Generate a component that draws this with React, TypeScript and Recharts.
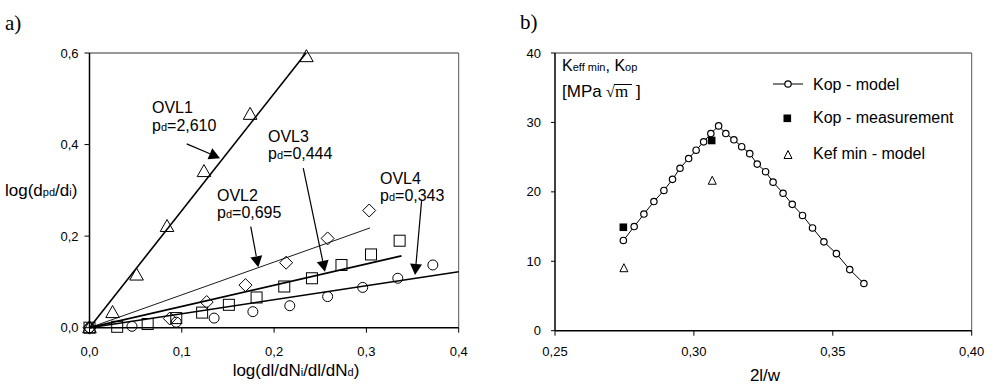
import React from 'react';
import {
  ComposedChart,
  Scatter,
  XAxis,
  YAxis,
  ReferenceLine,
} from 'recharts';

const FONT = '"Liberation Sans", Arial, sans-serif';
const SERIF = '"Liberation Serif", "Times New Roman", serif';

// panel a) measured points, log(dl/dN ratio) vs log(d ratio)
const ovl1 = [
  { x: 0, y: 0 }, { x: 0.025, y: 0.033 }, { x: 0.051, y: 0.115 }, { x: 0.084, y: 0.221 },
  { x: 0.124, y: 0.341 }, { x: 0.174, y: 0.466 }, { x: 0.235, y: 0.592 },
];
const ovl2 = [
  { x: 0, y: 0 }, { x: 0.087, y: 0.02 }, { x: 0.127, y: 0.056 }, { x: 0.169, y: 0.093 },
  { x: 0.213, y: 0.142 }, { x: 0.258, y: 0.195 }, { x: 0.303, y: 0.256 },
];
const ovl3 = [
  { x: 0, y: 0 }, { x: 0.03, y: 0.002 }, { x: 0.063, y: 0.008 }, { x: 0.094, y: 0.021 },
  { x: 0.122, y: 0.033 }, { x: 0.151, y: 0.05 }, { x: 0.181, y: 0.066 }, { x: 0.211, y: 0.09 },
  { x: 0.241, y: 0.108 }, { x: 0.273, y: 0.137 }, { x: 0.305, y: 0.16 }, { x: 0.336, y: 0.19 },
];
const ovl4 = [
  { x: 0, y: 0 }, { x: 0.046, y: 0.003 }, { x: 0.094, y: 0.012 }, { x: 0.135, y: 0.021 },
  { x: 0.177, y: 0.035 }, { x: 0.217, y: 0.048 }, { x: 0.258, y: 0.068 }, { x: 0.296, y: 0.088 },
  { x: 0.334, y: 0.108 }, { x: 0.372, y: 0.137 },
];

// fitted lines through the origin
const ovl1Fit = [{ x: 0, y: 0 }, { x: 0.2346, y: 0.6 }];
const ovl2Fit = [{ x: 0, y: 0 }, { x: 0.304, y: 0.218 }];
const ovl3Fit = [{ x: 0, y: 0 }, { x: 0.338, y: 0.157 }];
const ovl4Fit = [{ x: 0, y: 0 }, { x: 0.4, y: 0.122 }];

// arrows: [from, to] in data units
const ovl1Arrow = [{ x: 0.1053, y: 0.4016 }, { x: 0.1414, y: 0.3703 }];
const ovl2Arrow = [{ x: 0.1747, y: 0.2208 }, { x: 0.1829, y: 0.132 }];
const ovl3Arrow = [{ x: 0.2316, y: 0.3484 }, { x: 0.2551, y: 0.1224 }];
const ovl4Arrow = [{ x: 0.3599, y: 0.2791 }, { x: 0.3527, y: 0.1152 }];

const aTicksX = [0, 0.1, 0.2, 0.3, 0.4];
const aTicksY = [0, 0.2, 0.4, 0.6];

// panel b)
const kopModel = [
  { x: 0.2746, y: 13.0 }, { x: 0.2785, y: 15.0 }, { x: 0.282, y: 16.8 }, { x: 0.2856, y: 18.6 },
  { x: 0.2892, y: 20.2 }, { x: 0.2923, y: 21.8 }, { x: 0.295, y: 23.4 }, { x: 0.2981, y: 24.8 },
  { x: 0.3008, y: 26.0 }, { x: 0.3035, y: 27.2 }, { x: 0.3061, y: 28.4 }, { x: 0.3089, y: 29.5 },
  { x: 0.3115, y: 28.4 }, { x: 0.3144, y: 27.5 }, { x: 0.3172, y: 26.5 }, { x: 0.3201, y: 25.5 },
  { x: 0.3228, y: 24.0 }, { x: 0.3258, y: 22.9 }, { x: 0.3285, y: 21.4 }, { x: 0.3321, y: 19.8 },
  { x: 0.3354, y: 18.2 }, { x: 0.3391, y: 16.6 }, { x: 0.3427, y: 14.8 }, { x: 0.3468, y: 12.8 },
  { x: 0.3513, y: 11.1 }, { x: 0.3561, y: 8.8 }, { x: 0.3612, y: 6.8 },
];
const kopMeasurement = [{ x: 0.2746, y: 14.9 }, { x: 0.3064, y: 27.4 }];
const kefMinModel = [{ x: 0.2748, y: 9.0 }, { x: 0.3066, y: 21.6 }];

const bTicksX = [0.25, 0.3, 0.35, 0.4];
const bTicksY = [0, 10, 20, 30, 40];

const comma = (d: number) => (v: number) => v.toFixed(d).replace('.', ',');

const tickStyle = { fill: '#000', fontSize: 13, fontFamily: FONT };

const NoShape = () => <g />;

const OpenTriangle = (p: any) => (
  <polygon
    points={`${p.cx},${p.cy - 7} ${p.cx - 6.8},${p.cy + 5} ${p.cx + 6.8},${p.cy + 5}`}
    fill="none" stroke="#000" strokeWidth={1}
  />
);
const OpenDiamond = (p: any) => (
  <polygon
    points={`${p.cx},${p.cy - 6.5} ${p.cx + 6.5},${p.cy} ${p.cx},${p.cy + 6.5} ${p.cx - 6.5},${p.cy}`}
    fill="none" stroke="#000" strokeWidth={1}
  />
);
const OpenSquare = (p: any) => (
  <rect x={p.cx - 5.5} y={p.cy - 5.5} width={11} height={11} fill="none" stroke="#000" strokeWidth={1} />
);
const OpenCircle = (p: any) => (
  <circle cx={p.cx} cy={p.cy} r={5} fill="none" stroke="#000" strokeWidth={1} />
);
const SmallCircle = (p: any) => (
  <circle cx={p.cx} cy={p.cy} r={3.2} fill="#fff" stroke="#000" strokeWidth={1.2} />
);
const FilledSquare = (p: any) => (
  <rect x={p.cx - 3.8} y={p.cy - 3.8} width={7.6} height={7.6} fill="#000" />
);
const SmallTriangle = (p: any) => (
  <polygon
    points={`${p.cx},${p.cy - 4.5} ${p.cx - 4},${p.cy + 3.5} ${p.cx + 4},${p.cy + 3.5}`}
    fill="none" stroke="#000" strokeWidth={1}
  />
);

const Arrow = (p: any) => {
  const { x1, y1, x2, y2 } = p;
  const dx = x2 - x1;
  const dy = y2 - y1;
  const len = Math.sqrt(dx * dx + dy * dy);
  const ux = dx / len;
  const uy = dy / len;
  const hl = 11;
  const hw = 6;
  const bx = x2 - ux * hl;
  const by = y2 - uy * hl;
  return (
    <g>
      <line x1={x1} y1={y1} x2={bx} y2={by} stroke="#000" strokeWidth={1.2} />
      <polygon
        points={`${x2},${y2} ${bx - uy * hw},${by + ux * hw} ${bx + uy * hw},${by - ux * hw}`}
        fill="#000"
      />
    </g>
  );
};

const Sub = ({ children }: { children: React.ReactNode }) => (
  <tspan fontSize={11}>{children}</tspan>
);

const App: React.FC = () => {
  return (
    <div style={{ position: 'absolute', left: 0, top: 0, width: 993, height: 386, background: '#fff' }}>
      <div style={{ position: 'absolute', left: 0, top: 0 }}>
        <ComposedChart width={480} height={386} margin={{ top: 53, right: 21.3, bottom: 28.3, left: 39.5 }}>
          <XAxis
            type="number" dataKey="x" domain={[0, 0.4]} ticks={aTicksX} tickFormatter={comma(1)}
            stroke="#000" axisLine={{ stroke: '#000', strokeWidth: 1.5 }} tickSize={5} tickMargin={14}
            height={30} tick={tickStyle}
          />
          <YAxis
            type="number" dataKey="y" domain={[0, 0.6]} ticks={aTicksY} tickFormatter={comma(1)}
            stroke="#000" axisLine={{ stroke: '#000', strokeWidth: 1.5 }} tickSize={5} tickMargin={6}
            width={50} tick={tickStyle}
          />
          <ReferenceLine y={0.6} stroke="#333" strokeWidth={1} />
          <ReferenceLine x={0.4} stroke="#555" strokeWidth={1} />
          <Scatter data={ovl1Fit} line={{ stroke: '#000', strokeWidth: 1.6 }} shape={NoShape} isAnimationActive={false} />
          <Scatter data={ovl2Fit} line={{ stroke: '#000', strokeWidth: 0.9 }} shape={NoShape} isAnimationActive={false} />
          <Scatter data={ovl3Fit} line={{ stroke: '#000', strokeWidth: 1.8 }} shape={NoShape} isAnimationActive={false} />
          <Scatter data={ovl4Fit} line={{ stroke: '#000', strokeWidth: 1.5 }} shape={NoShape} isAnimationActive={false} />
          <Scatter name="OVL1" data={ovl1} shape={OpenTriangle} isAnimationActive={false} />
          <Scatter name="OVL2" data={ovl2} shape={OpenDiamond} isAnimationActive={false} />
          <Scatter name="OVL3" data={ovl3} shape={OpenSquare} isAnimationActive={false} />
          <Scatter name="OVL4" data={ovl4} shape={OpenCircle} isAnimationActive={false} />
          <ReferenceLine segment={ovl1Arrow} shape={Arrow} />
          <ReferenceLine segment={ovl2Arrow} shape={Arrow} />
          <ReferenceLine segment={ovl3Arrow} shape={Arrow} />
          <ReferenceLine segment={ovl4Arrow} shape={Arrow} />
        </ComposedChart>
      </div>

      <div style={{ position: 'absolute', left: 480, top: 0 }}>
        <ComposedChart width={513} height={386} margin={{ top: 53, right: 21.3, bottom: 25.3, left: 25 }}>
          <XAxis
            type="number" dataKey="x" domain={[0.25, 0.4]} ticks={bTicksX} tickFormatter={comma(2)}
            stroke="#000" axisLine={{ stroke: '#000', strokeWidth: 1.5 }} tickSize={5} tickMargin={11}
            height={30} tick={tickStyle}
          />
          <YAxis
            type="number" dataKey="y" domain={[0, 40]} ticks={bTicksY}
            stroke="#000" axisLine={{ stroke: '#000', strokeWidth: 1.5 }} tickSize={4} tickMargin={10}
            width={50} tick={tickStyle}
          />
          <ReferenceLine y={40} stroke="#333" strokeWidth={1} />
          <ReferenceLine x={0.4} stroke="#555" strokeWidth={1} />
          <Scatter name="Kop - model" data={kopModel} line={{ stroke: '#000', strokeWidth: 1 }} shape={SmallCircle} isAnimationActive={false} />
          <Scatter name="Kop - measurement" data={kopMeasurement} shape={FilledSquare} isAnimationActive={false} />
          <Scatter name="Kef min - model" data={kefMinModel} shape={SmallTriangle} isAnimationActive={false} />
        </ComposedChart>
      </div>

      <svg
        width={993}
        height={386}
        style={{ position: 'absolute', left: 0, top: 0, pointerEvents: 'none' }}
        fontFamily={FONT}
        fill="#000"
      >
        <text x={5} y={30} fontFamily={SERIF} fontSize={21}>a)</text>
        <text x={520} y={29} fontFamily={SERIF} fontSize={21}>b)</text>

        {/* panel a titles */}
        <text x={5} y={196} fontSize={17}>
          log(d<Sub>pd</Sub>/d<Sub>i</Sub>)
        </text>
        <text x={296} y={376} fontSize={17} textAnchor="middle">
          log(dl/dN<Sub>i</Sub>/dl/dN<Sub>d</Sub>)
        </text>

        <text x={152} y={113} fontSize={16}>OVL1</text>
        <text x={152} y={130.5} fontSize={16}>p<Sub>d</Sub>=2,610</text>
        <text x={268} y={141.5} fontSize={16}>OVL3</text>
        <text x={268} y={159} fontSize={16}>p<Sub>d</Sub>=0,444</text>
        <text x={217} y={200.5} fontSize={16}>OVL2</text>
        <text x={217} y={218} fontSize={16}>p<Sub>d</Sub>=0,695</text>
        <text x={380} y={183.5} fontSize={16}>OVL4</text>
        <text x={380} y={201} fontSize={16}>p<Sub>d</Sub>=0,343</text>

        {/* panel b titles */}
        <text x={765} y={381} fontSize={17} textAnchor="middle">2l/w</text>
        <text x={562} y={71} fontSize={16}>
          K<Sub>eff min</Sub>, K<Sub>op</Sub>
        </text>
        <text x={562} y={97} fontSize={17}>[MPa</text>
        <text x={606} y={97} fontSize={16} fontFamily={SERIF}>√</text>
        <line x1={614} y1={84.5} x2={632} y2={84.5} stroke="#000" strokeWidth={1} />
        <text x={615} y={97} fontSize={17} fontFamily={SERIF}>m</text>
        <text x={636} y={97} fontSize={17}>]</text>

        {/* legend */}
        <line x1={773} y1={84} x2={803} y2={84} stroke="#000" strokeWidth={1} />
        <circle cx={788} cy={84} r={3.2} fill="#fff" stroke="#000" strokeWidth={1.2} />
        <text x={813} y={89.5} fontSize={16}>Kop - model</text>
        <rect x={783.5} y={114.5} width={7.6} height={7.6} fill="#000" />
        <text x={813} y={123} fontSize={16}>Kop - measurement</text>
        <polygon points="788,150.5 784,158.5 792,158.5" fill="none" stroke="#000" strokeWidth={1} />
        <text x={813} y={158.5} fontSize={16}>Kef min - model</text>
      </svg>
    </div>
  );
};

export default App;
